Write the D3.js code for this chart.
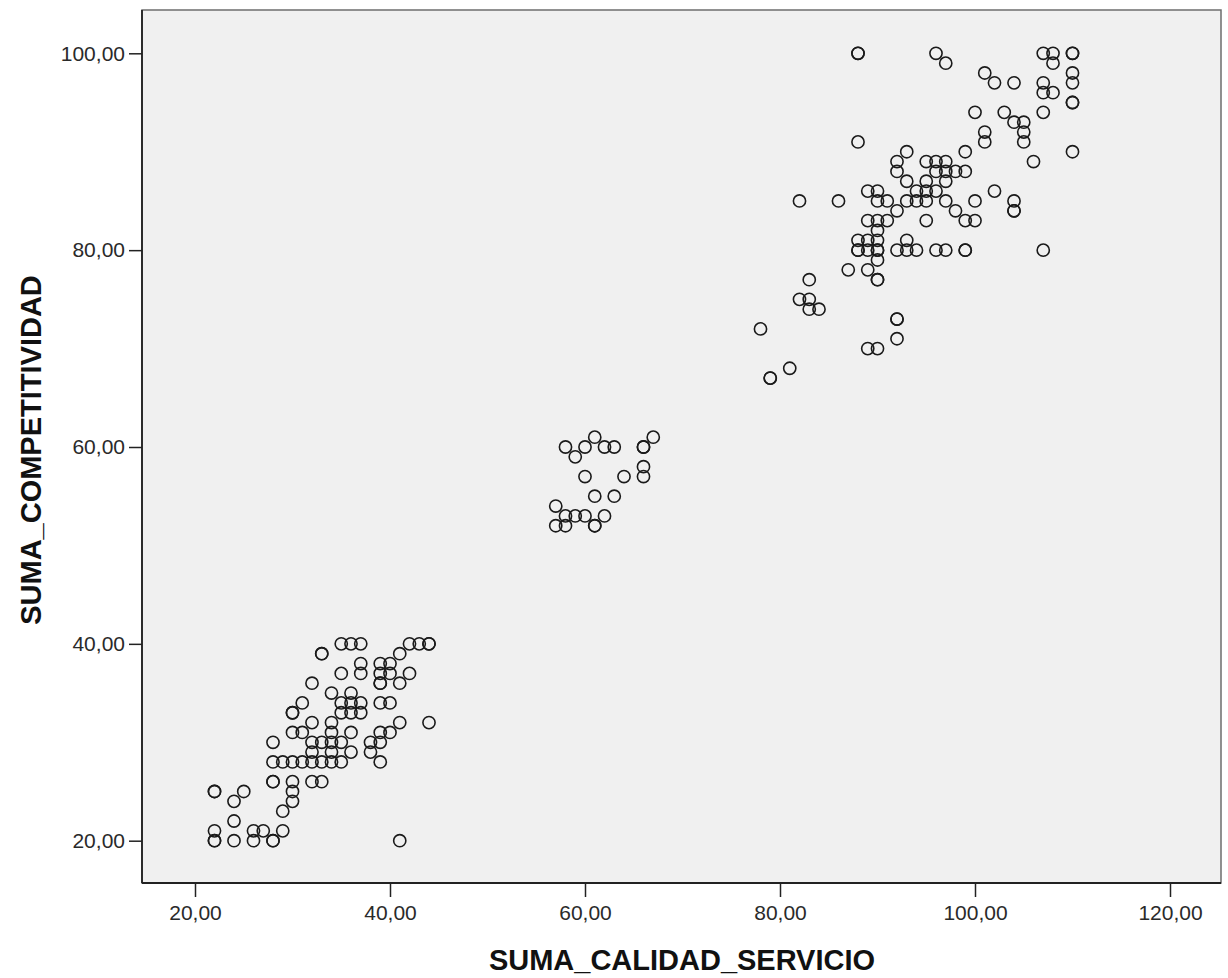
<!DOCTYPE html>
<html>
<head>
<meta charset="utf-8">
<script src="https://cdn.jsdelivr.net/npm/d3@7"></script>
<style>
  body { margin: 0; background: #fff; }
  svg { display: block; font-family: 'Liberation Sans', Arial, sans-serif; }
</style>
</head>
<body>
<div id="chart"></div>
<script>
// [SUMA_CALIDAD_SERVICIO, SUMA_COMPETITIVIDAD]
const grupoBajo = [
  [35,40],[36,40],[37,40],[42,40],[43,40],[44,40],[44,40],
  [33,39],[33,39],[41,39],
  [37,38],[39,38],[40,38],
  [35,37],[37,37],[39,37],[40,37],[42,37],
  [32,36],[39,36],[39,36],[41,36],
  [34,35],[36,35],
  [31,34],[35,34],[36,34],[37,34],[39,34],[40,34],
  [30,33],[30,33],[35,33],[36,33],[37,33],
  [32,32],[34,32],[41,32],[44,32],
  [30,31],[31,31],[34,31],[36,31],[39,31],[40,31],
  [28,30],[32,30],[33,30],[34,30],[35,30],[38,30],[39,30],
  [32,29],[34,29],[36,29],[38,29],
  [28,28],[29,28],[30,28],[31,28],[32,28],[33,28],[34,28],[35,28],[39,28],
  [28,26],[28,26],[30,26],[32,26],[33,26],
  [22,25],[22,25],[25,25],[30,25],
  [24,24],[30,24],
  [29,23],
  [24,22],
  [22,21],[26,21],[27,21],[29,21],
  [22,20],[22,20],[24,20],[26,20],[28,20],[28,20],[41,20]
];

const grupoMedio = [
  [58,60],[59,59],[60,60],[61,61],[62,60],[63,60],[66,60],[66,60],[67,61],
  [60,57],[64,57],[66,58],[66,57],
  [61,55],[63,55],[57,54],
  [58,53],[59,53],[60,53],[62,53],
  [57,52],[58,52],[61,52],[61,52]
];

const grupoAlto = [
  [88,100],[88,100],[96,100],[97,99],[107,100],[108,100],[108,99],[110,100],[110,100],
  [101,98],[102,97],[104,97],[107,97],[107,96],[108,96],[110,98],[110,97],[110,95],[110,95],
  [100,94],[103,94],[104,93],[105,93],[105,92],[105,91],[107,94],[101,92],[101,91],[110,90],[106,89],
  [88,91],[93,90],[99,90],[92,89],[92,88],[95,89],[96,89],[97,89],[96,88],[97,88],[98,88],[99,88],
  [93,87],[95,87],[97,87],[89,86],[90,86],[94,86],[95,86],[96,86],[102,86],
  [90,85],[91,85],[93,85],[94,85],[95,85],[97,85],[100,85],[104,85],[82,85],[86,85],
  [92,84],[98,84],[104,84],[104,84],
  [89,83],[90,83],[91,83],[95,83],[99,83],[100,83],
  [90,82],
  [88,81],[89,81],[90,81],[93,81],
  [88,80],[88,80],[89,80],[90,80],[90,80],[92,80],[93,80],[94,80],[96,80],[97,80],[99,80],[99,80],[107,80],
  [90,79],[87,78],[89,78],[90,77],[90,77],[83,77],
  [82,75],[83,75],[83,74],[84,74],[78,72],[92,73],[92,73],[92,71],
  [89,70],[90,70],[81,68],[79,67],[79,67]
];

const xTicks = [20, 40, 60, 80, 100, 120];
const yTicks = [20, 40, 60, 80, 100];
const xTitle = 'SUMA_CALIDAD_SERVICIO';
const yTitle = 'SUMA_COMPETITIVIDAD';

const
  width = 1228,
  height = 978,
  plot = { left: 142, right: 1221, top: 10, bottom: 883 },
  fmt = function (d) { return d.toFixed(2).replace('.', ','); };

const svg = d3.select('#chart')
  .append('svg')
  .attr('width', width)
  .attr('height', height);

const x = d3.scaleLinear()
  .domain([20, 120])
  .range([195, 1170]);

const y = d3.scaleLinear()
  .domain([20, 100])
  .range([840.7, 53.3]);

// plot background + frame
svg.append('rect')
  .attr('x', plot.left)
  .attr('y', plot.top)
  .attr('width', plot.right - plot.left)
  .attr('height', plot.bottom - plot.top)
  .style('fill', '#f0f0f0')
  .style('stroke', '#6e6e6e')
  .style('stroke-width', 1.5);

// axes
const xAxis = svg.append('g')
  .attr('transform', 'translate(0,' + plot.bottom + ')')
  .call(d3.axisBottom(x).tickValues(xTicks).tickFormat(fmt).tickSize(14).tickPadding(8));

const yAxis = svg.append('g')
  .attr('transform', 'translate(' + plot.left + ',0)')
  .call(d3.axisLeft(y).tickValues(yTicks).tickFormat(fmt).tickSize(13).tickPadding(4));

[xAxis, yAxis].forEach(function (g) {
  g.select('.domain').remove();
  g.selectAll('line').style('stroke', '#222').style('stroke-width', 1.5);
  g.selectAll('text')
    .style('font-family', "'Liberation Sans', Arial, sans-serif")
    .style('font-size', '21px')
    .style('fill', '#2a2a2a');
});

// dark axis lines
svg.append('line')
  .attr('x1', plot.left).attr('x2', plot.left)
  .attr('y1', plot.top).attr('y2', plot.bottom)
  .style('stroke', '#222').style('stroke-width', 1.8);

svg.append('line')
  .attr('x1', plot.left).attr('x2', plot.right)
  .attr('y1', plot.bottom).attr('y2', plot.bottom)
  .style('stroke', '#222').style('stroke-width', 1.8);

// points
svg.append('g')
  .selectAll('circle')
  .data(grupoBajo.concat(grupoMedio, grupoAlto))
  .enter().append('circle')
  .attr('cx', function (d) { return x(d[0]); })
  .attr('cy', function (d) { return y(d[1]); })
  .attr('r', 6.1)
  .style('fill', 'none')
  .style('stroke', '#1a1a1a')
  .style('stroke-width', 1.6);

// titles
svg.append('text')
  .attr('x', 682)
  .attr('y', 970)
  .attr('text-anchor', 'middle')
  .style('font-size', '29px')
  .style('font-weight', 'bold')
  .style('fill', '#111')
  .text(xTitle);

svg.append('text')
  .attr('transform', 'translate(41,450) rotate(-90)')
  .attr('text-anchor', 'middle')
  .style('font-size', '29px')
  .style('font-weight', 'bold')
  .style('fill', '#111')
  .text(yTitle);
</script>
</body>
</html>
